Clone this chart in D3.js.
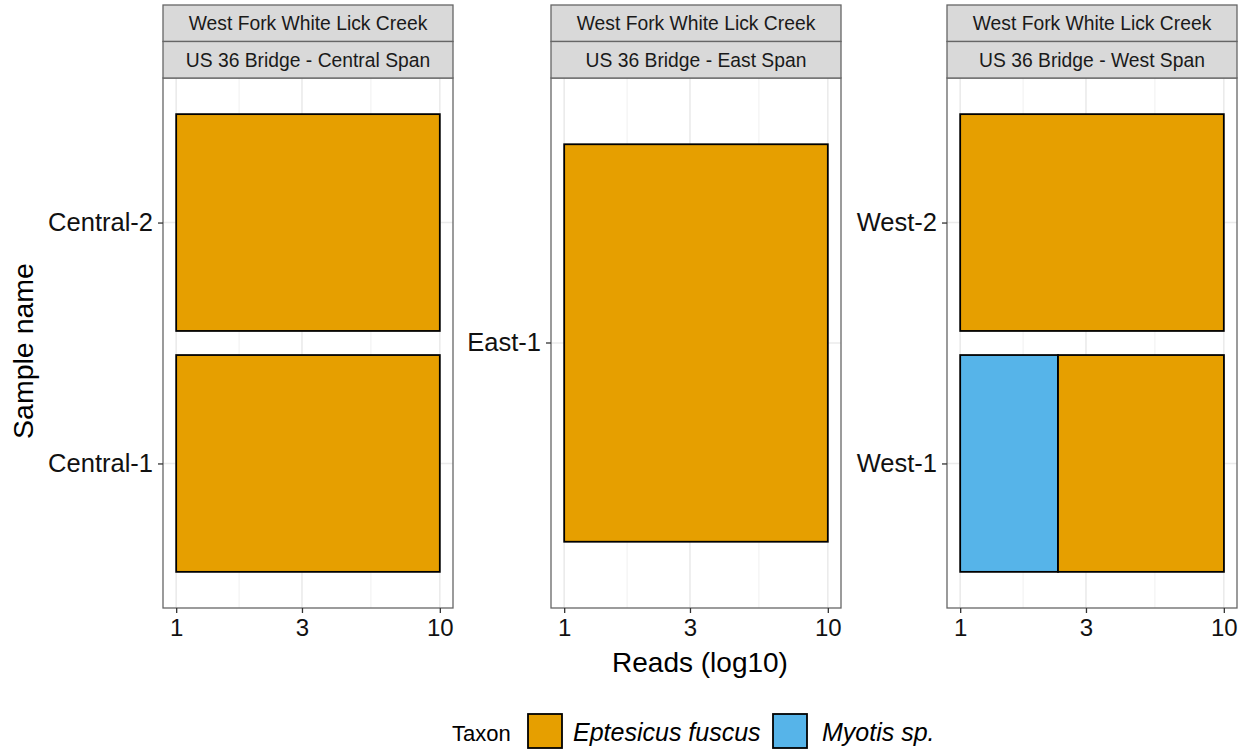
<!DOCTYPE html>
<html><head><meta charset="utf-8">
<script src="https://cdn.jsdelivr.net/npm/d3@7"></script>
<style>body{margin:0;background:#fff}svg{display:block}text{font-family:"Liberation Sans",Arial,sans-serif}</style>
</head><body>
<svg id="c" width="1246" height="751"></svg>
<script>
// ---- data ----
const siteLabels = ["West Fork White Lick Creek","West Fork White Lick Creek","West Fork White Lick Creek"];
const panelLabels = ["US 36 Bridge - Central Span","US 36 Bridge - East Span","US 36 Bridge - West Span"];
const panelSamples = [["Central-1","Central-2"],["East-1"],["West-1","West-2"]];
const recSample = ["Central-1","Central-2","East-1","West-1","West-1","West-2"];
const recTaxon  = ["Eptesicus fuscus","Eptesicus fuscus","Eptesicus fuscus","Myotis sp.","Eptesicus fuscus","Eptesicus fuscus"];
const recReads  = [10,10,10,2.35,4.26,10];
const taxa = ["Eptesicus fuscus","Myotis sp."];
const taxaColors = ["#E69F00","#56B4E9"];
const xTicks = [1,3,10];
const xMinor = [Math.sqrt(3),Math.sqrt(30)];

const svg = d3.select("#c");
const panelX = [163,551,947], panelW = 290, pTop = 78, pBottom = 608, stripH = 36.5;
const color = d3.scaleOrdinal().domain(taxa).range(taxaColors);
const border = "#666";

panelLabels.forEach((pl,pi)=>{
  const g = svg.append("g").attr("transform",`translate(${panelX[pi]},0)`);
  const x = d3.scaleLog().domain([Math.pow(10,-0.05),Math.pow(10,1.05)]).range([0,panelW]);
  const samples = panelSamples[pi];
  const n = samples.length;
  const yl = d3.scaleLinear().domain([0.4,n+0.6]).range([pBottom,pTop]);
  const yPos = s => yl(samples.indexOf(s)+1);
  const unit = yl(0)-yl(1);
  // gridlines
  xMinor.forEach(v=>g.append("line").attr("x1",x(v)).attr("x2",x(v)).attr("y1",pTop).attr("y2",pBottom).attr("stroke","#f0f0f0").attr("stroke-width",1));
  xTicks.forEach(v=>g.append("line").attr("x1",x(v)).attr("x2",x(v)).attr("y1",pTop).attr("y2",pBottom).attr("stroke","#ebebeb").attr("stroke-width",1.6));
  samples.forEach(s=>g.append("line").attr("x1",0).attr("x2",panelW).attr("y1",yPos(s)).attr("y2",yPos(s)).attr("stroke","#ebebeb").attr("stroke-width",1.6));
  // bars stacked in log space (ggplot style)
  samples.forEach(s=>{
    const idx = recSample.map((r,i)=>r===s?i:-1).filter(i=>i>=0);
    idx.sort((a,b)=>taxa.indexOf(recTaxon[b])-taxa.indexOf(recTaxon[a]));
    let acc = 0;
    idx.forEach(i=>{
      const lv = Math.log10(recReads[i]);
      const x0 = x(Math.pow(10,acc)), x1 = x(Math.pow(10,acc+lv));
      acc += lv;
      g.append("rect").attr("x",x0).attr("width",x1-x0)
        .attr("y",yPos(s)-0.45*unit).attr("height",0.9*unit)
        .attr("fill",color(recTaxon[i])).attr("stroke","#000").attr("stroke-width",1.8);
    });
  });
  // panel border
  g.append("rect").attr("x",0).attr("y",pTop).attr("width",panelW).attr("height",pBottom-pTop).attr("fill","none").attr("stroke",border).attr("stroke-width",1.3);
  // strips
  [siteLabels[pi],pl].forEach((t,k)=>{
    const y0 = 5+k*stripH;
    g.append("rect").attr("x",0).attr("y",y0).attr("width",panelW).attr("height",stripH).attr("fill","#d9d9d9").attr("stroke",border).attr("stroke-width",1.3);
    g.append("text").attr("x",panelW/2).attr("y",y0+stripH/2+6.8).attr("text-anchor","middle").attr("font-size",19.3).attr("fill","#1a1a1a").text(t);
  });
  // x axis
  const xa = g.append("g").attr("transform",`translate(0,${pBottom})`)
    .call(d3.axisBottom(x).tickValues(xTicks).tickFormat(d3.format("d")).tickSize(5).tickPadding(6));
  xa.select(".domain").remove();
  xa.selectAll("line").attr("stroke","#333").attr("stroke-width",1.3);
  xa.selectAll("text").attr("font-size",24).attr("fill","#111").style("font-family","'Liberation Sans',Arial,sans-serif");
  // y axis
  const yb = d3.scalePoint().domain(samples).range([yPos(samples[0]),yPos(samples[n-1])]);
  const ya = g.append("g").call(d3.axisLeft(yb).tickSize(5).tickPadding(5));
  if(n===1) ya.selectAll(".tick").attr("transform",`translate(0,${yPos(samples[0])})`);
  ya.select(".domain").remove();
  ya.selectAll("line").attr("stroke","#333").attr("stroke-width",1.3);
  ya.selectAll("text").attr("font-size",25.5).attr("fill","#111").style("font-family","'Liberation Sans',Arial,sans-serif");
});

// axis titles
svg.append("text").attr("x",700).attr("y",672).attr("text-anchor","middle").attr("font-size",28).attr("fill","#000").text("Reads (log10)");
svg.append("text").attr("transform","translate(33,351) rotate(-90)").attr("text-anchor","middle").attr("font-size",28.5).attr("fill","#000").text("Sample name");

// legend
const lg = svg.append("g");
lg.append("text").attr("x",452).attr("y",741).attr("font-size",22).attr("fill","#000").text("Taxon");
const keyX = [528,773], labX = [573,822];
taxa.forEach((t,i)=>{
  lg.append("rect").attr("x",keyX[i]).attr("y",714).attr("width",34).attr("height",34).attr("fill",color(t)).attr("stroke","#000").attr("stroke-width",1.8);
  lg.append("text").attr("x",labX[i]).attr("y",741).attr("font-size",25).attr("font-style","italic").attr("fill","#000").text(t);
});
</script>
</body></html>
